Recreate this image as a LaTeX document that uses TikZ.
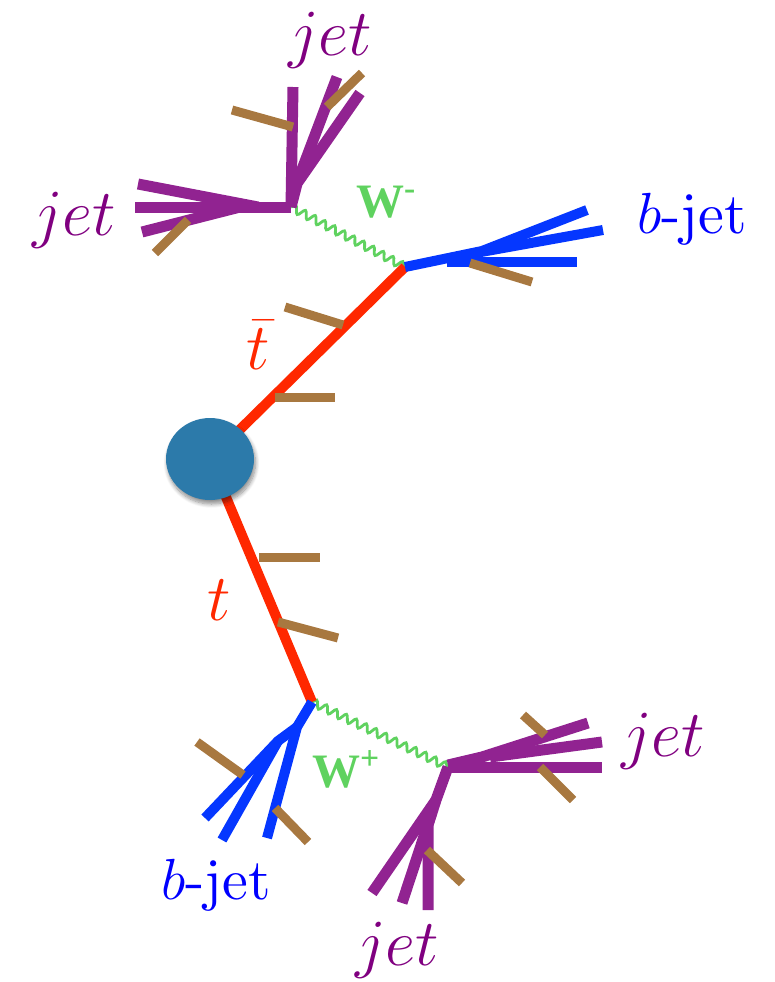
\RequirePackage{fix-cm}
\documentclass[tikz,border=0pt]{standalone}
\usepackage{fontspec}
\usetikzlibrary{decorations.pathmorphing,shapes.geometric,shadows.blur}
\newfontfamily\wfont{Liberation Serif}
\font\bjetfont=cmr10 at 58pt

\definecolor{jetpurple}{RGB}{145,35,145}
\definecolor{jetlabel}{RGB}{128,0,128}
\definecolor{bblue}{RGB}{5,55,255}
\definecolor{blabel}{RGB}{0,0,255}
\definecolor{topred}{RGB}{255,40,0}
\definecolor{tick}{RGB}{168,120,64}
\definecolor{wgreen}{RGB}{95,210,95}
\definecolor{blobblue}{RGB}{44,122,170}

\tikzset{
  purplejet/.style={draw=jetpurple, line width=11pt},
  bluejet/.style={draw=bblue, line width=10pt},
  topline/.style={draw=topred, line width=10pt},
  ticksty/.style={draw=tick, line width=9pt},
  wboson/.style={draw=wgreen, line width=2.8pt,
    decorate, decoration={snake, segment length=11pt, amplitude=3.8pt}},
  jetlab/.style={inner sep=0pt, text=jetlabel, font=\fontsize{66}{70}\selectfont},
  blab/.style={inner sep=0pt, text=blabel, font=\fontsize{58}{62}\selectfont},
  tlab/.style={inner sep=0pt, text=topred, font=\fontsize{66}{70}\selectfont},
  wlab/.style={inner sep=0pt, anchor=base west, text=wgreen,
    font=\wfont\bfseries\fontsize{48}{50}\selectfont},
}

\begin{document}
\begin{tikzpicture}[x=1pt,y=-1pt]
\useasboundingbox (0,0) rectangle (774,982);

% vertices
\coordinate (v1) at (291,207);   % W- decay
\coordinate (v2) at (405,267);   % tbar decay
\coordinate (v3) at (312,702);   % t decay
\coordinate (v4) at (448,767);   % W+ decay
\coordinate (c)  at (210,459);   % production

% W bosons
\draw[wboson] (v1) -- (v2);
\draw[wboson] (v3) -- (v4);

% top quarks
\draw[topline] (c) -- (v2);
\draw[topline] (c) -- (v3);

\node[ellipse, fill=blobblue, minimum width=88pt, minimum height=82pt, inner sep=0pt,
      blur shadow={shadow xshift=1.5pt, shadow yshift=-4pt, shadow blur steps=8,
      shadow blur radius=4pt, shadow opacity=45}] (blob) at (c) {};

% jets from W-
\draw[purplejet] (v1) -- (135,207);
\draw[purplejet] (258,207) -- (138,184);
\draw[purplejet] (240,207) -- (142,232);
\draw[purplejet] (v1) -- (293,87);
\draw[purplejet] (v1) -- (298,180) -- (337,77);
\draw[purplejet] (298,182) -- (360,93);

% b-jet from tbar
\draw[bluejet] (v2) -- (482,251) -- (587,210);
\draw[bluejet] (470,254) -- (603,230);
\draw[bluejet] (447,262) -- (577,262);

% b-jet from t
\draw[bluejet] (v3) -- (297,727) -- (267,838);
\draw[bluejet] (297,727) -- (278,741) -- (205,818);
\draw[bluejet] (278,741) -- (222,840);

% jets from W+
\draw[purplejet] (v4) -- (602,767);
\draw[purplejet] (448,765) -- (482,757) -- (588,723);
\draw[purplejet] (490,757) -- (602,742);
\draw[purplejet] (v4) -- (436,800) -- (428,825) -- (428,910);
\draw[purplejet] (436,800) -- (372,893);
\draw[purplejet] (432,812) -- (402,903);

% ticks
\draw[ticksty] (155,253) -- (188,220);
\draw[ticksty] (232,110) -- (293,127);
\draw[ticksty] (327,107) -- (362,73);
\draw[ticksty] (470,263) -- (532,282);
\draw[ticksty] (285,307) -- (343,325);
\draw[ticksty] (275,397) -- (335,397);
\draw[ticksty] (259,557) -- (320,557);
\draw[ticksty] (278,622) -- (338,638);
\draw[ticksty] (197,742) -- (243,775);
\draw[ticksty] (275,808) -- (308,842);
\draw[ticksty] (523,715) -- (545,735);
\draw[ticksty] (540,767) -- (573,800);
\draw[ticksty] (427,850) -- (462,883);

% labels
\node[jetlab] (jtop)   at (330,40)  {$jet$};
\node[jetlab] (jleft)  at (74,220)  {$jet$};
\node[jetlab] (jright) at (663,741) {$jet$};
\node[jetlab] (jbot)   at (397,950) {$jet$};
\node[blab] (btop) at (692,219) {$b${\bjetfont -jet}};
\node[blab] (bbot) at (216,885) {$b${\bjetfont -jet}};
\node[tlab] (tbar) at (258,345) {$\bar{t}$};
\node[tlab] (tq)   at (219,600) {$t$};
\node[wlab] (wm) at (356,217) {W\textsuperscript{-}};
\node[wlab] (wp) at (312,787) {W\textsuperscript{+}};
\end{tikzpicture}
\end{document}
